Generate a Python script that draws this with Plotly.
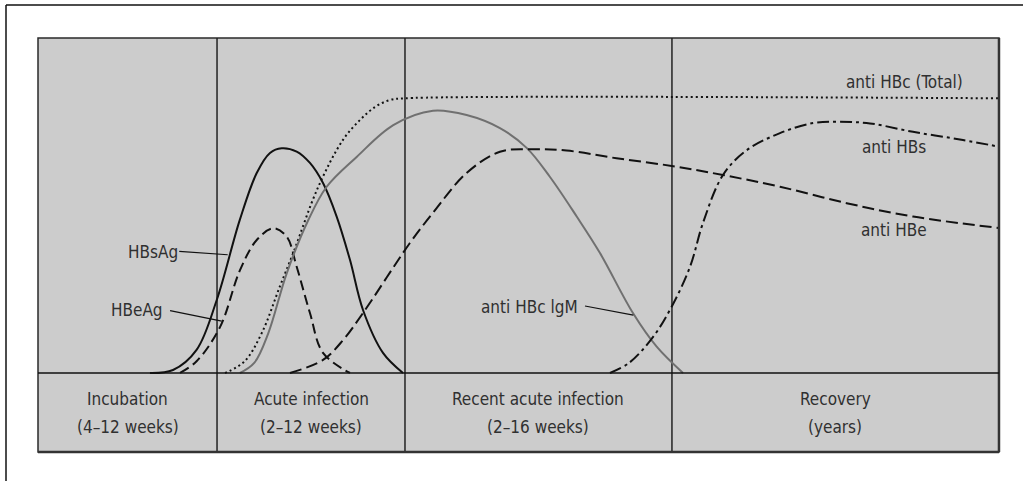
import plotly.graph_objects as go

# Time axis runs 0..100 across the chart, level axis 0..100 (0 = baseline).
# Each marker: sampled time points and relative levels.
hbsag_t = [11.65, 14.05, 16.5, 18.6, 21.0, 22.76, 24.14, 25.36, 26.92, 28.3, 29.66, 31.08, 32.47, 33.82, 35.9, 37.98]
hbsag_v = [0, 0.9, 6.9, 21.8, 45.7, 59.7, 65.7, 67.1, 66.1, 62.7, 56.7, 46.7, 33.7, 18.8, 6.0, 0]

hbeag_t = [14.78, 16.5, 18.94, 21.02, 22.76, 24.48, 25.88, 26.92, 28.3, 29.66, 32.47]
hbeag_v = [0, 3.5, 13.7, 30.7, 39.7, 43.2, 40.7, 31.7, 17.9, 6.0, 0]

hbc_total_t = [19.46, 21.5, 23.28, 25.18, 26.57, 29.17, 31.74, 33.5, 35.07, 36.63, 38.19, 100]
hbc_total_v = [0, 3.5, 11.9, 25.9, 35.9, 55.6, 69.6, 75.5, 79.4, 81.5, 82.0, 82.0]

hbc_igm_t = [21.02, 22.5, 23.96, 25.88, 28.13, 30.04, 33.16, 36.97, 41.1, 44.6, 48.07, 50.85, 53.28, 56.06, 58.48, 61.91, 64.38, 67.12]
hbc_igm_v = [0, 3.0, 11.85, 29.76, 45.67, 55.6, 64.5, 74.0, 78.3, 77.0, 73.1, 67.2, 58.5, 46.7, 35.8, 17.9, 7.85, 0]

anti_hbe_t = [26.22, 29.66, 31.77, 33.82, 38.7, 41.1, 44.6, 48.07, 51.5, 55.0, 60.2, 65.94, 71.28, 77.21, 84.15, 91.05, 100]
anti_hbe_v = [0, 3.9, 9.9, 17.9, 38.8, 47.8, 59.7, 66.06, 66.8, 66.4, 64.1, 61.8, 59.1, 55.6, 50.7, 46.7, 43.3]

anti_hbs_t = [59.52, 61.5, 63.99, 65.94, 67.85, 69.2, 71.28, 73.75, 77.21, 80.65, 83.45, 86.58, 91.05, 96.25, 100]
anti_hbs_v = [0, 3.0, 10.7, 19.8, 31.7, 44.8, 59.1, 66.5, 71.6, 74.6, 75.0, 74.5, 72.0, 69.55, 67.55]

# Phase bands along the bottom
phase_bounds = [0, 18.63, 38.19, 65.97, 100]
phase_titles = ["Incubation", "Acute infection", "Recent acute infection", "Recovery"]
phase_spans = ["(4–12 weeks)", "(2–12 weeks)", "(2–16 weeks)", "(years)"]

BAND_BOTTOM = -23.58
TOP = 100
FONT = "DejaVu Sans Condensed, DejaVu Sans, sans-serif"
TEXT = "#303030"

fig = go.Figure()

def curve(t, v, color, dash, width=2):
    fig.add_trace(go.Scatter(
        x=t, y=v, mode="lines",
        line=dict(color=color, width=width, dash=dash, shape="spline", smoothing=1.0),
        hoverinfo="skip", showlegend=False,
    ))

curve(hbsag_t, hbsag_v, "#111111", "solid")
curve(hbeag_t, hbeag_v, "#111111", "10px,5px")
curve(hbc_total_t, hbc_total_v, "#111111", "2px,3px")
curve(hbc_igm_t, hbc_igm_v, "#707070", "solid")
curve(anti_hbe_t, anti_hbe_v, "#111111", "12px,5px")
curve(anti_hbs_t, anti_hbs_v, "#111111", "12px,4px,3px,4px")

shapes = []
# grey panel
shapes.append(dict(type="rect", xref="x", yref="y", x0=0, x1=100, y0=BAND_BOTTOM, y1=TOP,
                   fillcolor="#cccccc", line=dict(color="#2a2a2a", width=1.5), layer="below"))
# heavier right / bottom edge
shapes.append(dict(type="line", xref="x", yref="y", x0=100, x1=100, y0=BAND_BOTTOM, y1=TOP,
                   line=dict(color="#333333", width=2.5)))
shapes.append(dict(type="line", xref="x", yref="y", x0=0, x1=100, y0=BAND_BOTTOM, y1=BAND_BOTTOM,
                   line=dict(color="#333333", width=2.5)))
# baseline separating curves from phase band
shapes.append(dict(type="line", xref="x", yref="y", x0=0, x1=100, y0=0, y1=0,
                   line=dict(color="#111111", width=1.5)))
# phase dividers
for b in phase_bounds[1:-1]:
    shapes.append(dict(type="line", xref="x", yref="y", x0=b, x1=b, y0=BAND_BOTTOM, y1=TOP,
                       line=dict(color="#222222", width=1.5), layer="below"))
# outer frame (left and top edges)
shapes.append(dict(type="line", xref="paper", yref="paper", x0=6 / 1023, x1=6 / 1023, y0=0, y1=1 - 5 / 481,
                   line=dict(color="#111111", width=1.5)))
shapes.append(dict(type="line", xref="paper", yref="paper", x0=6 / 1023, x1=1, y0=1 - 5 / 481, y1=1 - 5 / 481,
                   line=dict(color="#111111", width=1.5)))
# label leader lines
leaders = [((14.7, 36.3), (19.74, 35.3)),
           ((13.74, 18.6), (19.12, 15.5)),
           ((56.92, 20.0), (61.95, 17.3))]
for (xa, ya), (xb, yb) in leaders:
    shapes.append(dict(type="line", xref="x", yref="y", x0=xa, y0=ya, x1=xb, y1=yb,
                       line=dict(color="#111111", width=1.2)))

annotations = []

def label(text, x, y, xanchor="center", size=17):
    annotations.append(dict(text=text, x=x, y=y, xref="x", yref="y", showarrow=False,
                            xanchor=xanchor, yanchor="middle",
                            font=dict(family=FONT, size=size, color=TEXT)))

label("anti HBc (Total)", 96.46, 86.96, "right")
label("anti HBs", 89.1, 67.4)
label("anti HBe", 89.1, 42.7)
label("HBsAg", 14.78, 36.2, "right")
label("HBeAg", 13.2, 18.8, "right")
label("anti HBc lgM", 56.4, 19.8, "right")

for i, (title, span) in enumerate(zip(phase_titles, phase_spans)):
    cx = (phase_bounds[i] + phase_bounds[i + 1]) / 2
    label(title, cx, -7.88)
    label(span, cx, -16.1)

fig.update_layout(
    width=1023, height=481,
    margin=dict(l=0, r=0, t=0, b=0),
    paper_bgcolor="white", plot_bgcolor="white",
    xaxis=dict(range=[-3.954, 102.5], visible=False, fixedrange=True),
    yaxis=dict(range=[-32.24, 111.34], visible=False, fixedrange=True),
    shapes=shapes, annotations=annotations,
    showlegend=False,
)

fig.write_html("out.html")
